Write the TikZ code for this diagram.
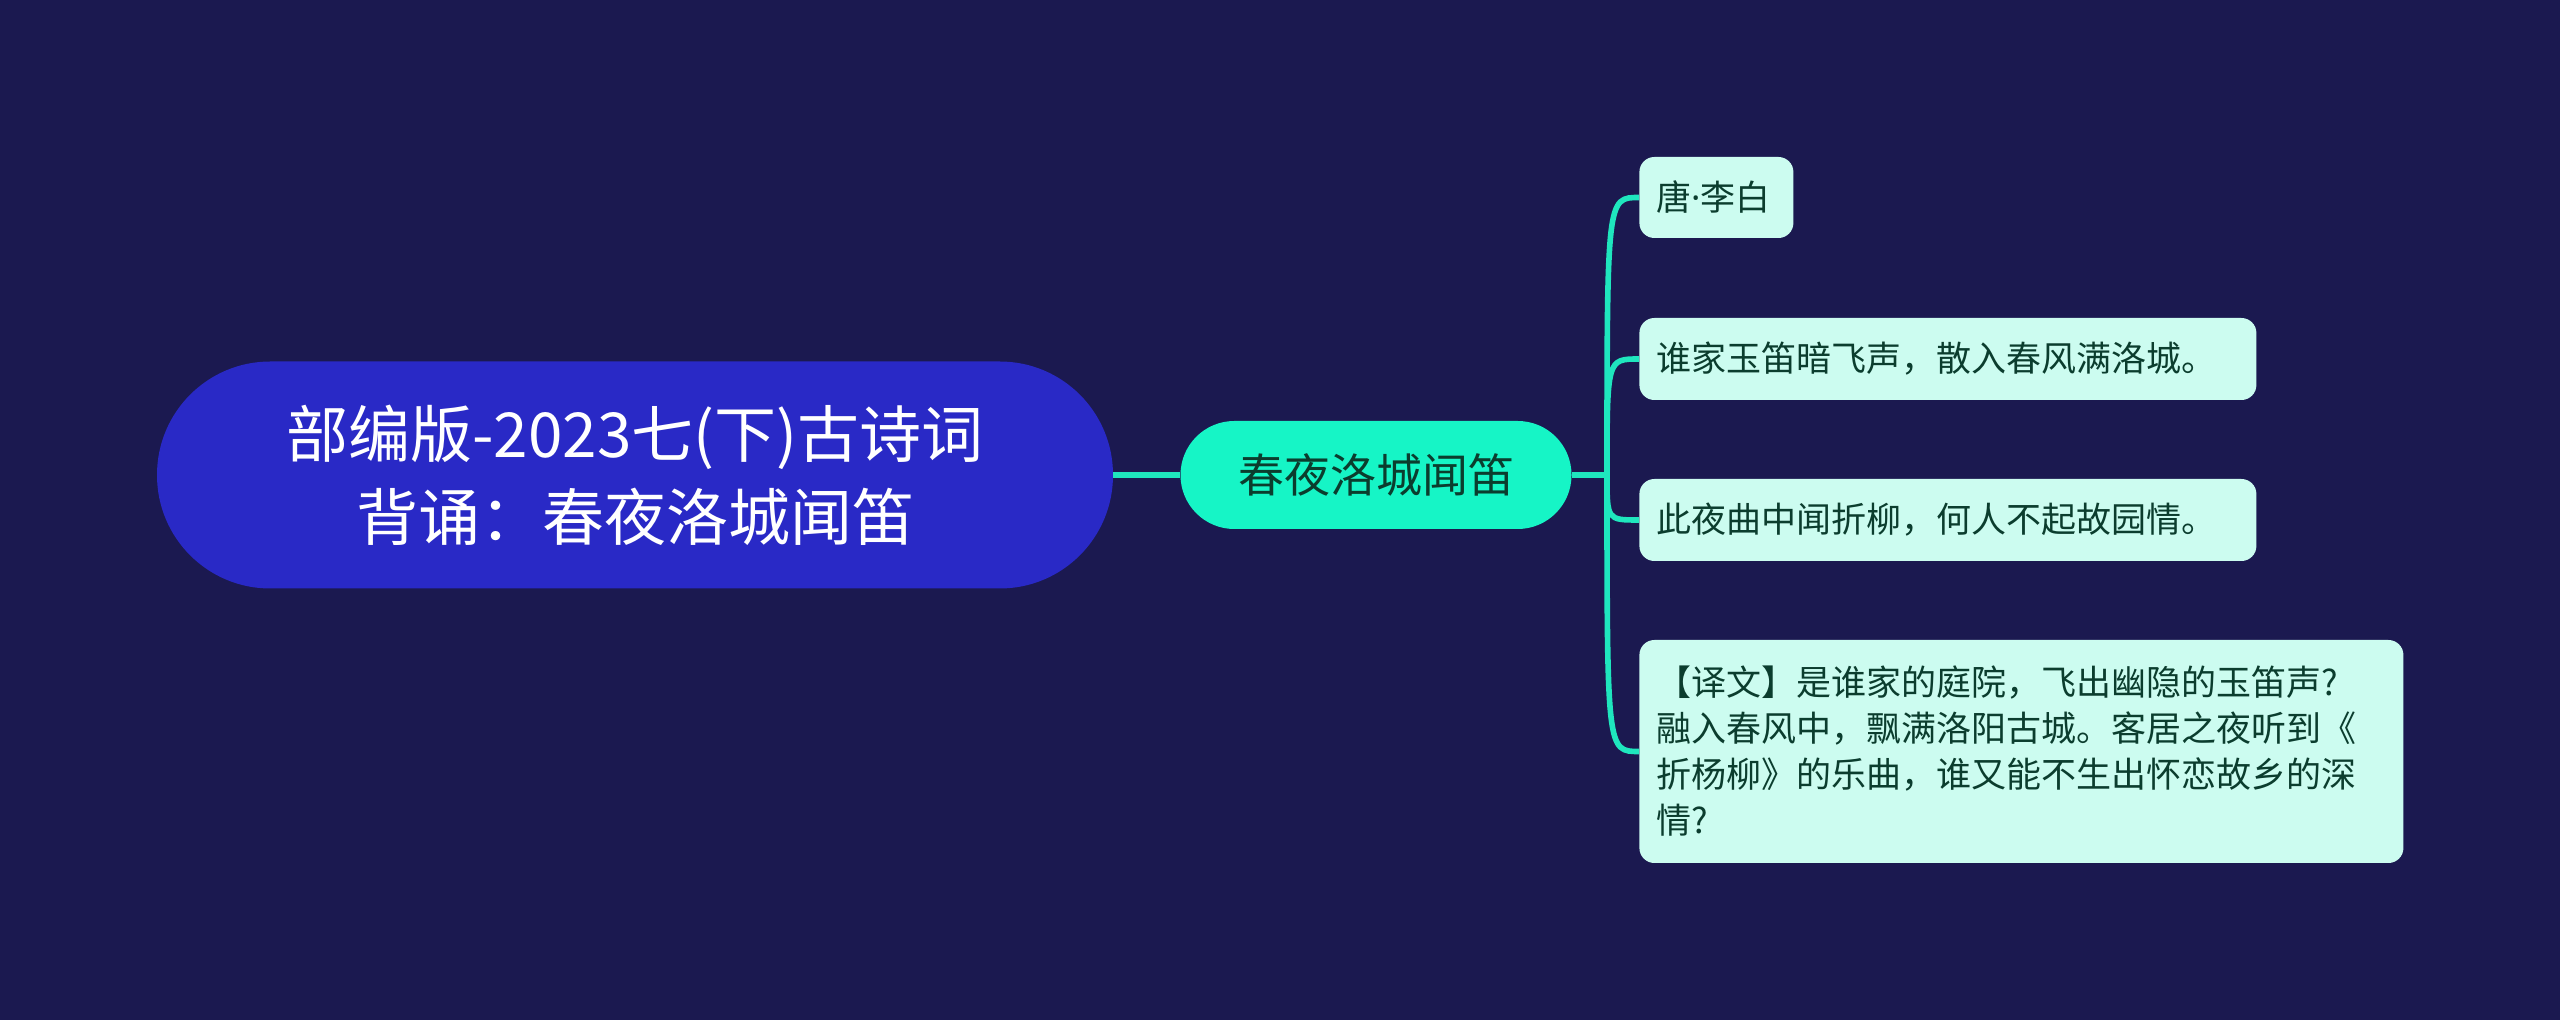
\documentclass[tikz,border=0pt]{standalone}
\usepackage{fontspec}
\setmainfont{Noto Sans CJK SC}
\newfontfamily\latinf{Noto Sans}
\definecolor{bg}{HTML}{1B1950}
\definecolor{rootc}{HTML}{2929C6}
\definecolor{midc}{HTML}{16F5C6}
\definecolor{linec}{HTML}{1FE6BE}
\definecolor{leafc}{HTML}{CCFCF0}
\definecolor{darkg}{HTML}{0B3D2E}
\begin{document}
\begin{tikzpicture}[x=0.5pt,y=-0.5pt,
  rootbox/.style={fill=rootc, text=white, rounded corners=56.6pt, minimum width=478pt, minimum height=113.5pt, align=center, inner sep=0pt, font=\fontsize{31}{41.5}\selectfont},
  midbox/.style={fill=midc, text=darkg, rounded corners=26.9pt, minimum width=195.5pt, minimum height=54pt, inner sep=0pt, font=\fontsize{23}{28}\selectfont},
  leafbox/.style={fill=leafc, text=darkg, rounded corners=7.5pt, anchor=west, inner xsep=8.5pt, inner ysep=0pt, align=left, font=\fontsize{17.5}{23}\selectfont},
  conn/.style={draw=linec, line width=2.8pt}]
\fill[bg] (0,0) rectangle (2560,1020);
\useasboundingbox (0,0) rectangle (2560,1020);

\node[rootbox] (root) at (635,475) {部编版-2023七(下)古诗词\\背诵：春夜洛城闻笛};
\node[midbox] (mid) at (1376,475) {春夜洛城闻笛};

\node[leafbox, text width=60pt, minimum height=40.5pt] (l1) at (1639,197.5) {唐{\latinf ·}李白};
\node[leafbox, text width=291.5pt, minimum height=41pt] (l2) at (1639,359) {谁家玉笛暗飞声，散入春风满洛城。};
\node[leafbox, text width=291.5pt, minimum height=41pt] (l3) at (1639,520) {此夜曲中闻折柳，何人不起故园情。};
\node[leafbox, text width=365pt, minimum height=111.5pt] (l4) at (1639,751.5) {【译文】是谁家的庭院，飞出幽隐的玉笛声?\\融入春风中，飘满洛阳古城。客居之夜听到《\\折杨柳》的乐曲，谁又能不生出怀恋故乡的深\\情?};

\coordinate (trunk) at (1607,475);
\draw[conn] (root.east) -- (mid.west);
\draw[conn] (mid.east) -- (trunk);
\foreach \l in {l1,l2,l3,l4}{
  \draw[conn] (trunk) .. controls (trunk |- \l.west) and (trunk |- \l.west) .. (\l.west);
}
\end{tikzpicture}
\end{document}
